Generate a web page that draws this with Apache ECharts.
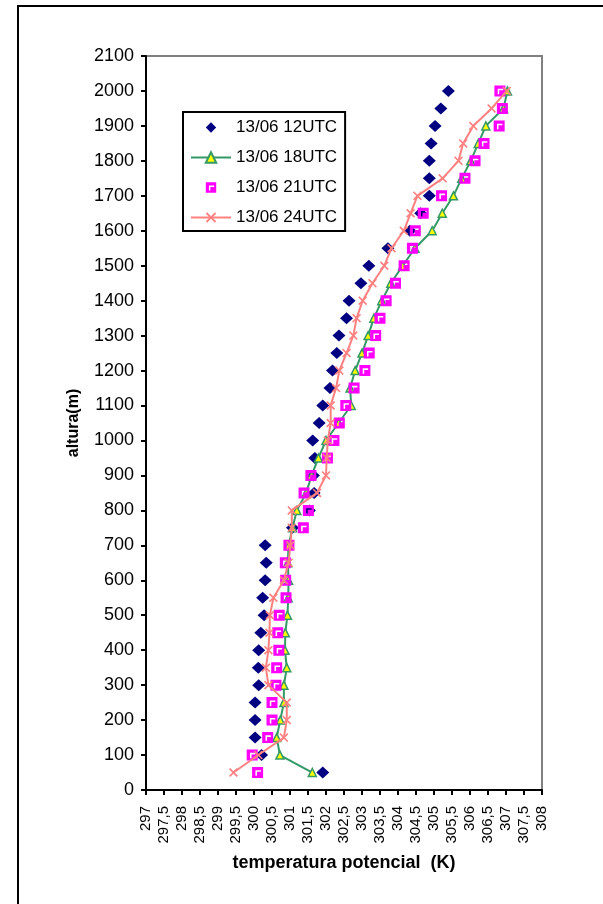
<!DOCTYPE html>
<html>
<head>
<meta charset="utf-8">
<script src="https://cdn.jsdelivr.net/npm/echarts@6/dist/echarts.min.js"></script>
<style>
  html, body { margin: 0; padding: 0; background: #ffffff; }
  #chart { width: 603px; height: 904px; }
</style>
</head>
<body>
<div id="chart"></div>
<script>
// Heights of the sounding levels (m)
const alturas = [50, 100, 150, 200, 250, 300, 350, 400, 450, 500,
  550, 600, 650, 700, 750, 800, 850, 900, 950, 1000,
  1050, 1100, 1150, 1200, 1250, 1300, 1350, 1400, 1450, 1500,
  1550, 1600, 1650, 1700, 1750, 1800, 1850, 1900, 1950, 2000];

// Potential temperature profiles (K) for each launch time
const theta12 = [301.91, 300.21, 300.03, 300.03, 300.03, 300.13, 300.12, 300.13, 300.19, 300.28,
  300.24, 300.31, 300.34, 300.31, 301.07, 301.54, 301.67, 301.65, 301.69, 301.63,
  301.81, 301.91, 302.11, 302.18, 302.30, 302.36, 302.57, 302.64, 302.97, 303.19,
  303.72, 304.33, 304.63, 304.87, 304.87, 304.87, 304.92, 305.03, 305.19, 305.40];

const theta18 = [301.62, 300.72, 300.63, 300.73, 300.83, 300.83, 300.91, 300.86, 300.87, 300.93,
  300.95, 300.96, 300.94, 300.96, 301.07, 301.19, 301.45, 301.60, 301.79, 302.00,
  302.35, 302.70, 302.67, 302.81, 303.00, 303.17, 303.33, 303.55, 303.80, 304.13,
  304.47, 304.95, 305.23, 305.54, 305.77, 306.02, 306.23, 306.44, 306.93, 307.04];

const theta21 = [300.10, 299.95, 300.38, 300.50, 300.50, 300.61, 300.63, 300.69, 300.66, 300.70,
  300.89, 300.88, 300.87, 300.97, 301.37, 301.51, 301.39, 301.58, 302.04, 302.22,
  302.37, 302.55, 302.78, 303.08, 303.20, 303.38, 303.50, 303.67, 303.93, 304.17,
  304.40, 304.48, 304.70, 305.21, 305.86, 306.14, 306.39, 306.81, 306.90, 306.83];

const theta24 = [299.43, 300.12, 300.83, 300.91, 300.91, 300.40, 300.33, 300.40, 300.43, 300.44,
  300.54, 300.83, 300.96, 301.01, 301.05, 301.05, 301.75, 302.00, 302.02, 302.05,
  302.13, 302.13, 302.28, 302.37, 302.57, 302.76, 302.85, 303.02, 303.29, 303.62,
  303.82, 304.16, 304.35, 304.54, 305.24, 305.68, 305.81, 306.09, 306.60, 307.02];

const seriesNames = ['13/06 12UTC', '13/06 18UTC', '13/06 21UTC', '13/06 24UTC'];

// Axis ranges
const xMin = 297, xMax = 308, xStep = 0.5;
const yMin = 0, yMax = 2100, yStep = 100;

const pares = (theta) => theta.map((t, i) => [t, alturas[i]]);

// Square marker with a white corner highlight, and an "x" marker
const squareMark = 'path://M0 0L10 0L10 10L0 10Z M3 3L3 8L4.4 8L4.4 4.4L8 4.4L8 3Z';
const crossMark = 'path://M0 1.3L1.3 0L5 3.7L8.7 0L10 1.3L6.3 5L10 8.7L8.7 10L5 6.3L1.3 10L0 8.7L3.7 5Z';

const chart = echarts.init(document.getElementById('chart'), null, { renderer: 'canvas' });

chart.setOption({
  animation: false,
  backgroundColor: '#ffffff',
  textStyle: { fontFamily: 'Liberation Sans, Arial, sans-serif' },
  graphic: [{
    type: 'rect',
    shape: { x: 18, y: 6, width: 700, height: 1000 },
    style: { fill: 'none', stroke: '#000000', lineWidth: 2 },
    silent: true
  }],
  grid: {
    left: 146, right: 61, top: 56, bottom: 114,
    show: true, borderColor: '#808080', borderWidth: 2, backgroundColor: '#ffffff'
  },
  legend: {
    orient: 'vertical',
    left: 183, top: 112,
    padding: [7, 8, 5, 7],
    itemWidth: 40, itemHeight: 13, itemGap: 13,
    borderColor: '#000000', borderWidth: 2,
    backgroundColor: '#ffffff',
    textStyle: { fontSize: 17, color: '#000000', fontFamily: 'Liberation Sans, Arial, sans-serif' },
    data: seriesNames
  },
  xAxis: {
    type: 'value',
    min: xMin, max: xMax, interval: xStep,
    name: 'temperatura potencial  (K)',
    nameLocation: 'middle', nameGap: 64,
    nameTextStyle: { fontSize: 18, fontWeight: 'bold', color: '#000000' },
    axisLine: { show: true, lineStyle: { color: '#000000', width: 2 } },
    axisTick: { show: true, length: 5, lineStyle: { color: '#000000', width: 2 } },
    splitLine: { show: false },
    axisLabel: {
      rotate: 90, margin: 16, fontSize: 15, color: '#000000',
      showMinLabel: true, showMaxLabel: true,
      formatter: (v) => String(v).replace('.', ',')
    }
  },
  yAxis: {
    type: 'value',
    min: yMin, max: yMax, interval: yStep,
    name: 'altura(m)',
    nameLocation: 'middle', nameGap: 64,
    nameTextStyle: { fontSize: 16, fontWeight: 'bold', color: '#000000' },
    axisLine: { show: true, lineStyle: { color: '#000000', width: 2 } },
    axisTick: { show: true, length: 5, lineStyle: { color: '#000000', width: 2 } },
    splitLine: { show: false },
    axisLabel: { margin: 12, fontSize: 18, color: '#000000', formatter: (v) => String(v) }
  },
  series: [
    {
      name: seriesNames[0], type: 'line',
      data: pares(theta12),
      symbol: 'diamond', symbolSize: [13, 12],
      lineStyle: { color: 'rgba(0,0,0,0)', width: 0 },
      itemStyle: { color: '#000080' },
      z: 2
    },
    {
      name: seriesNames[1], type: 'line',
      data: pares(theta18),
      symbol: 'triangle', symbolSize: 8,
      lineStyle: { color: '#339966', width: 2 },
      itemStyle: { color: '#ffff00', borderColor: '#339966', borderWidth: 1.5 },
      z: 3
    },
    {
      name: seriesNames[2], type: 'line',
      data: pares(theta21),
      symbol: squareMark, symbolSize: 11,
      lineStyle: { color: 'rgba(0,0,0,0)', width: 0 },
      itemStyle: { color: '#ff00ff' },
      z: 4
    },
    {
      name: seriesNames[3], type: 'line',
      data: pares(theta24),
      symbol: crossMark, symbolSize: 9,
      lineStyle: { color: '#ff8080', width: 2 },
      itemStyle: { color: '#ff8080' },
      z: 5
    }
  ]
});
</script>
</body>
</html>
